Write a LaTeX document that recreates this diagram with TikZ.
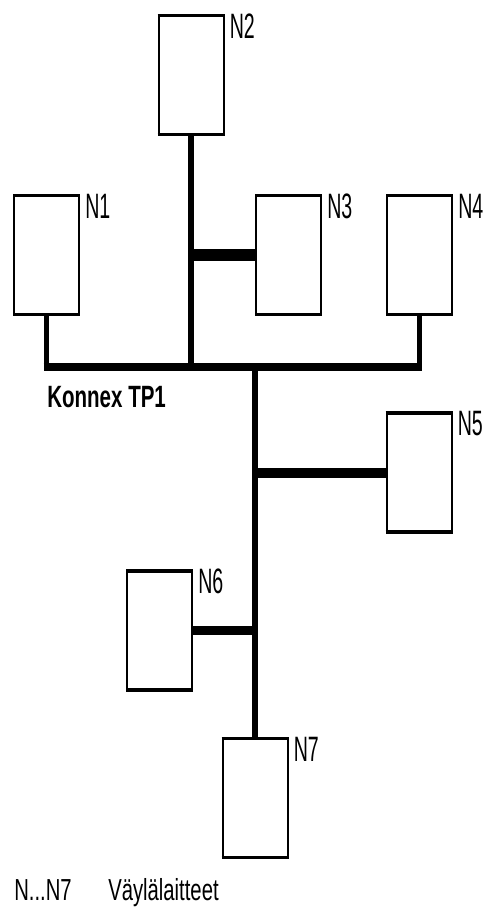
\documentclass[tikz,border=0pt]{standalone}
\usepackage{fontspec}
\setmainfont{Liberation Sans}
\usepackage{graphicx}
\tikzset{
  dev/.style={draw, line width=1.5pt, minimum width=48.75pt, minimum height=89.25pt, inner sep=0pt, outer sep=0pt},
  hedge/.style={line width=2.6pt, shorten <=-0.75pt, shorten >=-0.75pt},
  tag/.style={anchor=north west, inner sep=0pt, font=\fontsize{14.7}{16}\selectfont},
  txt/.style={anchor=base west, inner sep=0pt, font=\fontsize{15.2}{18}\selectfont},
  vwire/.style={line width=4.2pt},
  buswire/.style={line width=6pt},
  branchA/.style={line width=9pt},
  branchB/.style={line width=7.5pt},
  branchC/.style={line width=6.9pt}
}
\begin{document}
\begin{tikzpicture}[x=0.75pt,y=-0.75pt]
\useasboundingbox (0,0) rectangle (489,907);
% devices
\node[dev] (N1) at (46.5,255) {};
\node[dev] (N2) at (191,75) {};
\node[dev] (N3) at (288.5,255) {};
\node[dev] (N4) at (419.5,255) {};
\node[dev] (N5) at (419,472.5) {};
\node[dev] (N6) at (159.5,630.5) {};
\node[dev] (N7) at (255,798) {};
\foreach \n in {N1,N2,N3,N4,N5,N6,N7}{
  \draw[hedge] (\n.north west) -- (\n.north east);
  \draw[hedge] (\n.south west) -- (\n.south east);
  \node[tag] (L\n) at ([shift={(6,-2)}]\n.north east) {\scalebox{1}[1.8]{\n}};
}
% bus
\coordinate (J) at (255,367);
\coordinate (BL) at (N1.south |- J);
\coordinate (BR) at (N4.south |- J);
\draw[vwire] (N1.south) -- ([shift={(0,4)}]BL);
\draw[vwire] (N4.south) -- ([shift={(0,4)}]BR);
\draw[buswire] ([shift={(-2.8,0)}]BL) -- ([shift={(2.8,0)}]BR);
\draw[vwire] (N2.south) -- (N2.south |- J);
\draw[vwire] (J) -- (N7.north);
\draw[branchA] (N2.south |- N3.west) -- (N3.west);
\draw[branchB] (J |- N5.west) -- (N5.west);
\draw[branchC] (N6.east) -- (J |- N6.east);
% texts
\node[txt, font=\bfseries\fontsize{15.4}{18}\selectfont] (K) at (47,407) {\scalebox{1}[1.5]{Konnex TP1}};
\node[txt] (LG1) at (14,900) {\scalebox{1}[1.5]{N...N7}};
\node[txt] (LG2) at (108,900) {\scalebox{1}[1.5]{Väylälaitteet}};
\end{tikzpicture}
\end{document}
